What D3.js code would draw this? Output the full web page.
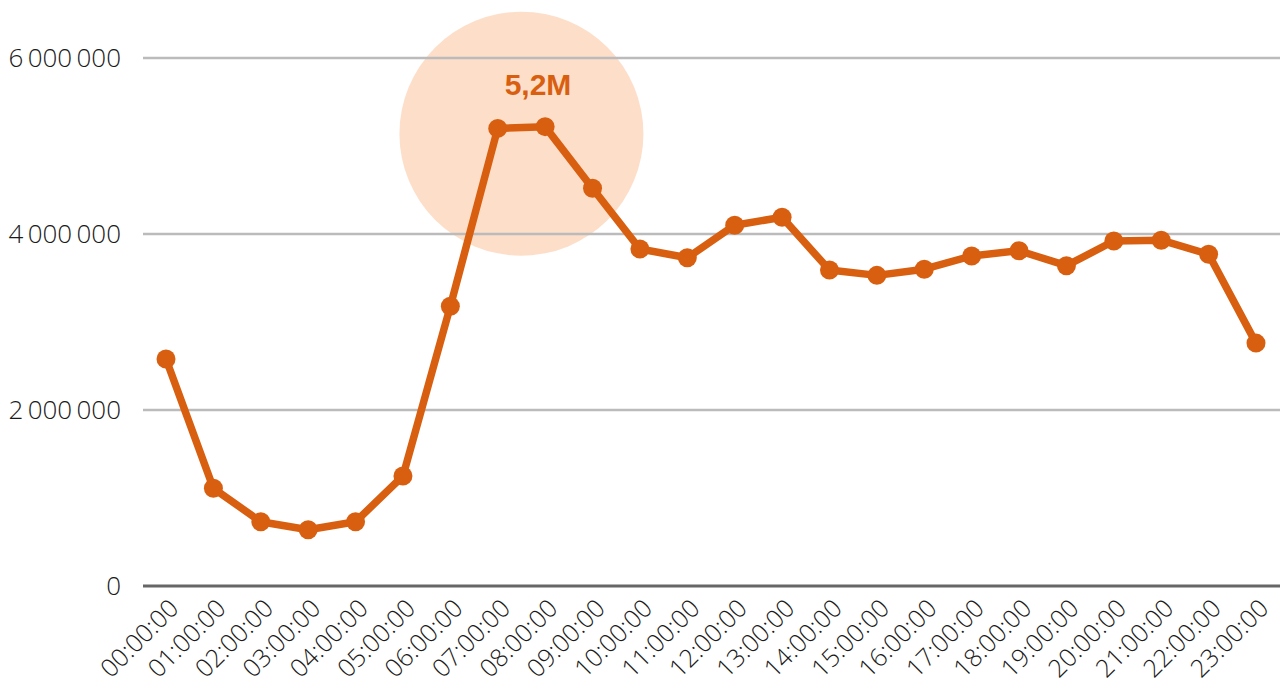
<!DOCTYPE html>
<html>
<head>
<meta charset="utf-8">
<script src="https://cdn.jsdelivr.net/npm/d3@7"></script>
<style>
  body { margin: 0; background: #fff; }
  svg { display: block; font-family: 'Open Sans', sans-serif; }
</style>
</head>
<body>
<div class="container"></div>
<script>
const hours = ['00:00:00', '01:00:00', '02:00:00', '03:00:00', '04:00:00', '05:00:00',
  '06:00:00', '07:00:00', '08:00:00', '09:00:00', '10:00:00', '11:00:00', '12:00:00',
  '13:00:00', '14:00:00', '15:00:00', '16:00:00', '17:00:00', '18:00:00', '19:00:00',
  '20:00:00', '21:00:00', '22:00:00', '23:00:00']
const values = [2580000, 1110000, 730000, 640000, 730000, 1250000, 3180000, 5200000,
  5220000, 4520000, 3830000, 3730000, 4100000, 4190000, 3590000, 3530000, 3600000,
  3750000, 3810000, 3640000, 3920000, 3930000, 3770000, 2760000]
const yTicks = [0, 2000000, 4000000, 6000000]
const peakLabel = '5,2M'

const W = 1284
const H = 697
const orange = '#d95f10'

const svg = d3.select('.container').append('svg').attr('width', W).attr('height', H)

const x = d3.scalePoint().domain(hours).range([166, 1256])
const y = d3.scaleLinear().domain([0, 6000000]).range([586, 58])

const fmt = (d) => d3.format(',')(d).replace(/,/g, '\u2009')

// highlight bubble behind the peak
svg.append('circle')
  .attr('cx', (x(hours[7]) + x(hours[8])) / 2)
  .attr('cy', y(5140000))
  .attr('r', 122)
  .attr('fill', '#fdd8bf')
  .attr('opacity', 0.85)

// grid
svg.append('g')
  .selectAll('line')
  .data(yTicks.slice(1))
  .enter()
  .append('line')
  .attr('x1', 143)
  .attr('x2', 1280)
  .attr('y1', (d) => y(d))
  .attr('y2', (d) => y(d))
  .attr('stroke', '#bbbbbb')
  .attr('stroke-width', 2.5)

svg.append('line')
  .attr('x1', 143)
  .attr('x2', 1280)
  .attr('y1', y(0))
  .attr('y2', y(0))
  .attr('stroke', '#666')
  .attr('stroke-width', 3)

// y labels
svg.append('g')
  .selectAll('text')
  .data(yTicks)
  .enter()
  .append('text')
  .attr('x', 121)
  .attr('y', (d) => y(d))
  .attr('dy', '0.35em')
  .attr('text-anchor', 'end')
  .attr('font-size', 26)
  .attr('font-weight', 300)
  .attr('fill', '#1a1a1a')
  .text(fmt)

// x labels
svg.append('g')
  .selectAll('text')
  .data(hours)
  .enter()
  .append('text')
  .attr('transform', (d) => `translate(${x(d) + 14},${y(0) + 24}) rotate(-45)`)
  .attr('text-anchor', 'end')
  .attr('font-size', 25)
  .attr('font-weight', 300)
  .attr('fill', '#1a1a1a')
  .text((d) => d)

// line
const line = d3.line().x((d, i) => x(hours[i])).y((d) => y(d))
svg.append('path')
  .datum(values)
  .attr('d', line)
  .attr('fill', 'none')
  .attr('stroke', orange)
  .attr('stroke-width', 7.5)
  .attr('stroke-linejoin', 'round')

svg.append('g')
  .selectAll('circle')
  .data(values)
  .enter()
  .append('circle')
  .attr('cx', (d, i) => x(hours[i]))
  .attr('cy', (d) => y(d))
  .attr('r', 9.5)
  .attr('fill', orange)

svg.append('text')
  .attr('x', 538)
  .attr('y', 95)
  .attr('text-anchor', 'middle')
  .attr('font-family', 'Liberation Sans, Arial, sans-serif')
  .attr('font-size', 30)
  .attr('font-weight', 'bold')
  .attr('fill', orange)
  .text(peakLabel)
</script>
</body>
</html>
